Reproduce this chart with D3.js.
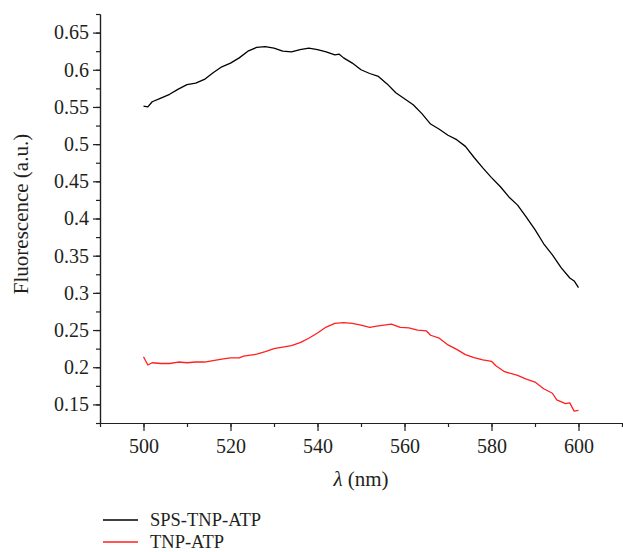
<!DOCTYPE html>
<html>
<head>
<meta charset="utf-8">
<script src="https://cdn.jsdelivr.net/npm/d3@7"></script>
<style>
  body { margin: 0; background: #fff; }
  svg text { font-family: "Liberation Serif", "DejaVu Serif", serif; fill: #231f20; }
  .axis path, .axis line { stroke: #231f20; stroke-width: 1.2; }
</style>
</head>
<body>
<svg id="chart" width="623" height="552"></svg>
<script>
// ---- data ----
var spsNm  = [500, 501, 502, 504, 506, 508, 510, 512, 514, 516, 518, 520, 522, 524, 526, 528, 530, 532, 534, 536, 538, 540, 542, 544, 545, 546, 548, 550, 552, 554, 556, 558, 560, 562, 564, 566, 568, 570, 572, 574, 576, 578, 580, 582, 584, 586, 588, 590, 592, 594, 596, 598, 599, 600];
var spsVal = [0.551, 0.550, 0.557, 0.562, 0.567, 0.574, 0.580, 0.582, 0.587, 0.596, 0.604, 0.609, 0.616, 0.625, 0.630, 0.631, 0.629, 0.625, 0.624, 0.627, 0.629, 0.627, 0.624, 0.620, 0.621, 0.616, 0.609, 0.600, 0.595, 0.591, 0.581, 0.569, 0.561, 0.553, 0.541, 0.527, 0.520, 0.512, 0.506, 0.497, 0.482, 0.468, 0.455, 0.443, 0.429, 0.418, 0.402, 0.385, 0.366, 0.351, 0.334, 0.320, 0.316, 0.307];

var tnpNm  = [500, 501, 502, 504, 506, 508, 510, 512, 514, 516, 518, 520, 522, 523, 526, 528, 530, 532, 534, 536, 538, 540, 542, 544, 546, 548, 550, 552, 554, 557, 559, 561, 563, 565, 566, 568, 570, 572, 574, 576, 578, 580, 581, 583, 586, 588, 590, 592, 594, 595, 597, 598, 599, 600];
var tnpVal = [0.214, 0.203, 0.206, 0.205, 0.205, 0.207, 0.206, 0.207, 0.207, 0.209, 0.211, 0.2125, 0.2125, 0.215, 0.2175, 0.221, 0.225, 0.227, 0.229, 0.233, 0.239, 0.246, 0.254, 0.259, 0.260, 0.259, 0.2565, 0.2535, 0.2555, 0.258, 0.2535, 0.253, 0.250, 0.249, 0.243, 0.239, 0.230, 0.224, 0.217, 0.213, 0.210, 0.208, 0.202, 0.194, 0.189, 0.184, 0.180, 0.171, 0.165, 0.156, 0.151, 0.152, 0.141, 0.142];

var xTicks = [500, 520, 540, 560, 580, 600];
var yTicks = [0.15, 0.2, 0.25, 0.3, 0.35, 0.4, 0.45, 0.5, 0.55, 0.6, 0.65];
var seriesNames = ["SPS-TNP-ATP", "TNP-ATP"];
var seriesColors = ["#000000", "#ff1f1f"];

// ---- layout ----
var svg = d3.select("#chart");
var x = d3.scaleLinear().domain([490, 610]).range([100, 622]);
var y = d3.scaleLinear().domain([0.125, 0.675]).range([423, 14]);
var fs = 20;

// minor ticks (every half step), no labels
svg.append("g").attr("class", "axis")
    .attr("transform", "translate(0,423)")
    .call(d3.axisBottom(x).tickValues(d3.range(490, 611, 10)).tickSize(4).tickSizeOuter(0).tickFormat(""));
svg.append("g").attr("class", "axis")
    .attr("transform", "translate(100,0)")
    .call(d3.axisLeft(y).tickValues(d3.range(0.125, 0.676, 0.025)).tickSize(4).tickSizeOuter(0).tickFormat(""));

// major ticks
var gx = svg.append("g").attr("class", "axis")
    .attr("transform", "translate(0,423)")
    .call(d3.axisBottom(x).tickValues(xTicks).tickSize(8).tickSizeOuter(0).tickPadding(8).tickFormat(d => String(d)));
var gy = svg.append("g").attr("class", "axis")
    .attr("transform", "translate(100,0)")
    .call(d3.axisLeft(y).tickValues(yTicks).tickSize(7).tickSizeOuter(0).tickPadding(4).tickFormat(d => String(d)));
svg.selectAll(".axis text").attr("font-size", fs).attr("font-family", null);

// axis titles
var xl = svg.append("text").attr("x", 361).attr("y", 486).attr("text-anchor", "middle").attr("font-size", 21);
xl.append("tspan").attr("font-style", "italic").text("λ");
xl.append("tspan").text(" (nm)");
svg.append("text")
    .attr("transform", "translate(28,214) rotate(-90)")
    .attr("text-anchor", "middle").attr("font-size", 21)
    .text("Fluorescence (a.u.)");

// curves
var line = d3.line().x(d => x(d[0])).y(d => y(d[1]));
var series = [d3.zip(spsNm, spsVal), d3.zip(tnpNm, tnpVal)];
svg.append("g").selectAll("path").data(series).join("path")
    .attr("d", line)
    .attr("fill", "none")
    .attr("stroke", (d, i) => seriesColors[i])
    .attr("stroke-width", 1.3)
    .attr("stroke-linejoin", "round");

// legend
var lg = svg.append("g").selectAll("g").data(seriesNames).join("g")
    .attr("transform", (d, i) => `translate(103,${520 + i * 22})`);
lg.append("line").attr("x1", 0).attr("x2", 35)
    .attr("stroke", (d, i) => seriesColors[i]).attr("stroke-width", 1.3);
lg.append("text").attr("x", 47).attr("dy", "0.33em").attr("font-size", 18.5).text(d => d);
</script>
</body>
</html>
